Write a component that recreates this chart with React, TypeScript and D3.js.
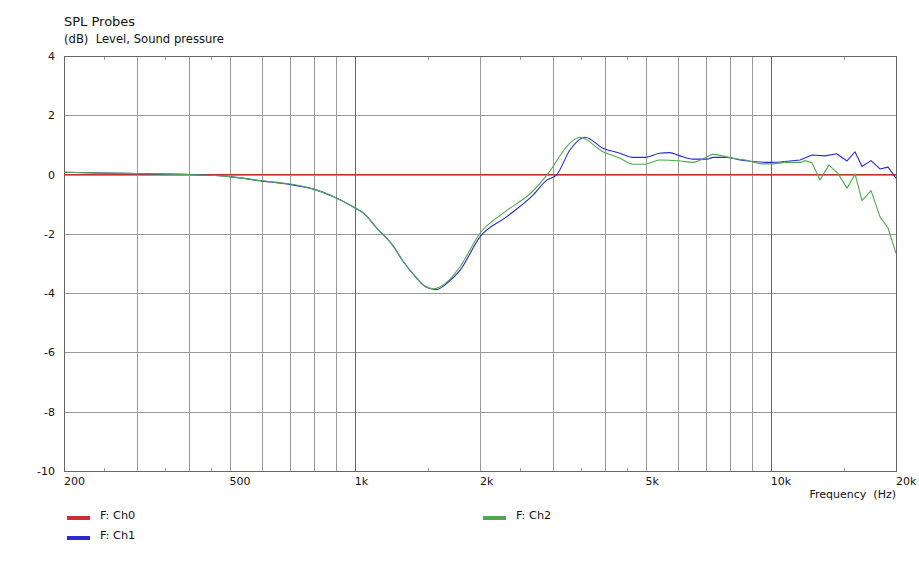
import React from "react";
import * as d3 from "d3";

const xTickValues = [200, 500, 1000, 2000, 5000, 10000, 20000];
const xTickLabels = ["200", "500", "1k", "2k", "5k", "10k", "20k"];
const xGridValues = [300, 400, 500, 600, 700, 800, 900, 1000, 2000, 3000, 4000, 5000, 6000, 7000, 8000, 9000, 10000];
const xDecadeValues = [1000, 10000];
const xMinorTicks = [250, 350, 450, 1500, 2500, 3500, 4500, 15000];
const yTickValues = [4, 2, 0, -2, -4, -6, -8, -10];

const ch0Freq = [200, 20000];
const ch0Db = [0, 0];

const ch2Freq = [200, 250, 315, 400, 500, 600, 700, 800, 890, 1000, 1050, 1130, 1240, 1300, 1400, 1475, 1550, 1670, 1790, 2000, 2300, 2670, 2900, 3290, 3480, 3950, 4340, 4660, 5000, 5400, 6050, 6500, 7030, 7260, 8100, 8900, 9500, 10000, 10800, 11800, 12060, 12560, 13130, 13800, 14500, 15250, 15940, 16570, 17420, 18300, 19140, 20000];
const ch2Db = [0.08, 0.05, 0.03, 0.0, -0.07, -0.21, -0.32, -0.5, -0.75, -1.12, -1.3, -1.81, -2.43, -2.88, -3.44, -3.76, -3.85, -3.61, -3.11, -1.98, -1.25, -0.58, -0.01, 1.06, 1.26, 0.77, 0.55, 0.35, 0.35, 0.49, 0.46, 0.41, 0.6, 0.68, 0.55, 0.46, 0.36, 0.36, 0.41, 0.41, 0.47, 0.4, -0.18, 0.32, 0.04, -0.46, 0.02, -0.88, -0.54, -1.42, -1.81, -2.66];

const ch1Freq = [200, 250, 315, 400, 500, 600, 700, 800, 890, 1000, 1050, 1130, 1240, 1300, 1400, 1475, 1570, 1670, 1790, 2000, 2320, 2670, 2900, 3060, 3290, 3580, 3950, 4340, 4660, 5000, 5400, 5714, 6050, 6500, 7030, 7260, 7850, 8430, 9960, 10800, 11760, 12560, 13500, 14400, 15250, 15940, 16570, 17420, 18300, 19140, 20000];
const ch1Db = [0.08, 0.05, 0.03, 0.0, -0.07, -0.22, -0.34, -0.5, -0.75, -1.12, -1.3, -1.81, -2.43, -2.88, -3.45, -3.78, -3.88, -3.65, -3.23, -2.1, -1.42, -0.72, -0.18, 0.0, 0.83, 1.26, 0.89, 0.72, 0.58, 0.58, 0.72, 0.74, 0.63, 0.52, 0.52, 0.58, 0.58, 0.49, 0.41, 0.44, 0.49, 0.66, 0.63, 0.7, 0.46, 0.77, 0.27, 0.47, 0.19, 0.25, -0.12];

const legendNames = ["F: Ch0", "F: Ch1", "F: Ch2"];
const seriesColors = ["#c83030", "#2a2ad0", "#4fa84f"];

const W = 919;
const H = 567;
const left = 64;
const right = 896;
const top = 56;
const bottom = 471;
const FONT = "'DejaVu Sans', Verdana, sans-serif";
const SMOOTH_LIMIT = 11000;

export default function App() {
  const x = d3.scaleLog().domain([200, 20000]).range([left, right]);
  const y = d3.scaleLinear().domain([-10, 4]).range([bottom, top]);
  const smooth = d3
    .line<[number, number]>()
    .x((d) => x(d[0]))
    .y((d) => y(d[1]))
    .curve(d3.curveMonotoneX);
  const straight = d3
    .line<[number, number]>()
    .x((d) => x(d[0]))
    .y((d) => y(d[1]));

  const zip = (f: number[], v: number[]) => f.map((fr, i) => [fr, v[i]] as [number, number]);
  const series = [
    { f: ch0Freq, v: ch0Db, c: seriesColors[0] },
    { f: ch1Freq, v: ch1Db, c: seriesColors[1] },
    { f: ch2Freq, v: ch2Db, c: seriesColors[2] },
  ];

  const legendPos = [
    { x: 67, y: 518 },
    { x: 67, y: 538 },
    { x: 483, y: 518 },
  ];

  const pathsFor = (pts: [number, number][]) => {
    const idx = pts.findIndex((p) => p[0] > SMOOTH_LIMIT);
    if (idx <= 1) return [straight(pts) || ""];
    const a = pts.slice(0, idx);
    const b = pts.slice(idx - 1);
    return [smooth(a) || "", straight(b) || ""];
  };

  return (
    <svg
      width={W}
      height={H}
      style={{ position: "absolute", left: 0, top: 0, background: "#ffffff" }}
      fontFamily={FONT}
    >
      <rect x={0} y={0} width={W} height={H} fill="#ffffff" />
      <text x={64} y={26} fontSize={13} fill="#111">SPL Probes</text>
      <text x={64} y={43} fontSize={11.6} fill="#111" xmlSpace="preserve">(dB)  Level, Sound pressure</text>

      {yTickValues.map((v) => (
        <line key={"h" + v} x1={left} x2={right} y1={Math.round(y(v)) + 0.5} y2={Math.round(y(v)) + 0.5} stroke="#999" strokeWidth={1} shapeRendering="crispEdges" />
      ))}
      {xGridValues.map((v) => (
        <line key={"v" + v} x1={Math.round(x(v)) + 0.5} x2={Math.round(x(v)) + 0.5} y1={top} y2={bottom} stroke={xDecadeValues.includes(v) ? "#666" : "#999"} strokeWidth={1} shapeRendering="crispEdges" />
      ))}
      {xMinorTicks.map((v) => (
        <g key={"m" + v}>
          <line x1={Math.round(x(v)) + 0.5} x2={Math.round(x(v)) + 0.5} y1={top} y2={top + 4} stroke="#999" shapeRendering="crispEdges" />
          <line x1={Math.round(x(v)) + 0.5} x2={Math.round(x(v)) + 0.5} y1={bottom - 3} y2={bottom} stroke="#999" shapeRendering="crispEdges" />
        </g>
      ))}
      <line x1={left + 0.5} x2={left + 0.5} y1={top} y2={bottom + 1} stroke="#666" shapeRendering="crispEdges" />
      <line x1={right + 0.5} x2={right + 0.5} y1={top} y2={bottom + 1} stroke="#666" shapeRendering="crispEdges" />
      <line x1={left} x2={right + 1} y1={top + 0.5} y2={top + 0.5} stroke="#666" shapeRendering="crispEdges" />
      <line x1={left} x2={right + 1} y1={bottom + 0.5} y2={bottom + 0.5} stroke="#666" shapeRendering="crispEdges" />

      {series.map((s, i) => (
        <g key={"s" + i}>
          {pathsFor(zip(s.f, s.v)).map((d, j) => (
            <path key={j} d={d} fill="none" stroke={s.c} strokeWidth={1.1} strokeLinejoin="round" />
          ))}
        </g>
      ))}

      {yTickValues.map((v) => (
        <text key={"yl" + v} x={55} y={y(v) + 4} fontSize={11} textAnchor="end" fill="#111">{v}</text>
      ))}
      {xTickValues.map((v, i) => (
        <text key={"xl" + v} x={x(v)} y={485} fontSize={11} fill="#111">{xTickLabels[i]}</text>
      ))}
      <text x={896} y={498} fontSize={11} textAnchor="end" fill="#111" xmlSpace="preserve">Frequency  (Hz)</text>

      {legendNames.map((n, i) => (
        <g key={"lg" + i}>
          <rect x={legendPos[i].x} y={legendPos[i].y - 2} width={23} height={4} fill={seriesColors[i]} />
          <text x={legendPos[i].x + 33} y={legendPos[i].y + 1} fontSize={11.3} fill="#111">{n}</text>
        </g>
      ))}
    </svg>
  );
}
